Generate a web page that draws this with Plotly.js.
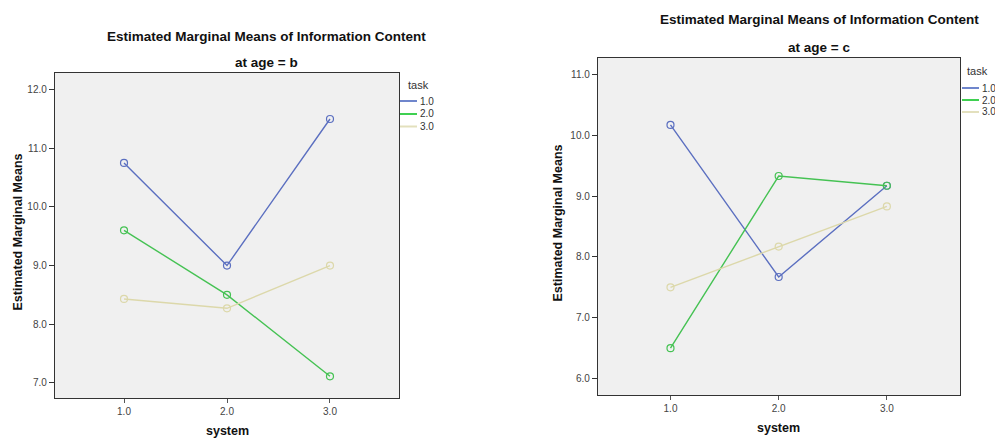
<!DOCTYPE html>
<html>
<head>
<meta charset="utf-8">
<script src="https://cdn.plot.ly/plotly-3.0.1.min.js"></script>
<style>
  html, body { margin: 0; padding: 0; background: #ffffff; }
  #chart { width: 995px; height: 439px; }
</style>
</head>
<body>
<div id="chart"></div>
<script>
// Estimated marginal means of Information Content by system, per task, at two age levels
const systemLevels = [1, 2, 3];
const systemTickText = ['1.0', '2.0', '3.0'];
const taskLabels = ['1.0', '2.0', '3.0'];

// age = b
const ageB_task1 = [10.75, 9.0, 11.5];
const ageB_task2 = [9.6, 8.5, 7.11];
const ageB_task3 = [8.43, 8.27, 9.0];

// age = c
const ageC_task1 = [10.17, 7.67, 9.17];
const ageC_task2 = [6.5, 9.33, 9.17];
const ageC_task3 = [7.5, 8.17, 8.83];

const mainTitle = 'Estimated Marginal Means of Information Content';
const panelSubtitles = ['at age = b', 'at age = c'];
const xTitle = 'system';
const yTitle = 'Estimated Marginal Means';
const legendTitle = 'task';

const yTicksB = [7, 8, 9, 10, 11, 12];
const yTicksC = [6, 7, 8, 9, 10, 11];

const lineColors = ['#5b6fc0', '#45c253', '#dcd8aa'];
const keyColors = ['#6f86cc', '#3fd051', '#e3e0bd'];

const W = 995, H = 439;
const px = x => x / W;
const py = y => 1 - y / H;

const FONT = 'Liberation Sans, Arial, sans-serif';

// panel frames in pixels: [left, right, top, bottom]
const panels = [
  { box: [55, 399, 73, 398], xr: [0.33, 3.67], yr: [6.74, 12.285], ticks: yTicksB,
    series: [ageB_task1, ageB_task2, ageB_task3],
    titleY: 36, subY: 63, titleX: 266,
    yTitleX: 17,
    legend: { titleX: 406, titleY: 85, lineX0: 400, lineX1: 417, labelX: 418, rows: [101, 114, 126.5] } },
  { box: [598, 960, 58, 395], xr: [0.33, 3.676], yr: [5.73, 11.27], ticks: yTicksC,
    series: [ageC_task1, ageC_task2, ageC_task3],
    titleY: 20, subY: 47, titleX: 819,
    yTitleX: 557,
    legend: { titleX: 965, titleY: 70.5, lineX0: 962, lineX1: 979, labelX: 980, rows: [88, 100, 112] } }
];

const traces = [];
const layout = {
  width: W, height: H,
  margin: { l: 0, r: 0, t: 0, b: 0 },
  paper_bgcolor: '#ffffff',
  showlegend: false,
  font: { family: FONT, size: 10, color: '#333333' },
  annotations: [],
  shapes: []
};

panels.forEach((p, i) => {
  const n = i === 0 ? '' : String(i + 1);
  const [l, r, t, b] = p.box;

  layout['xaxis' + n] = {
    domain: [px(l), px(r)],
    range: p.xr,
    anchor: 'y' + n,
    tickmode: 'array', tickvals: systemLevels, ticktext: systemTickText,
    ticks: 'outside', ticklen: 4, tickwidth: 1, tickcolor: '#555555',
    showline: true, mirror: true, linecolor: '#333333', linewidth: 1.2,
    showgrid: false, zeroline: false,
    tickfont: { family: FONT, size: 10, color: '#444444' },
    fixedrange: true
  };
  layout['yaxis' + n] = {
    domain: [py(b), py(t)],
    range: p.yr,
    anchor: 'x' + n,
    tickmode: 'array', tickvals: p.ticks, ticktext: p.ticks.map(v => v.toFixed(1)),
    ticks: 'outside', ticklen: 5, tickwidth: 1, tickcolor: '#333333',
    showline: true, mirror: true, linecolor: '#333333', linewidth: 1.2,
    showgrid: false, zeroline: false,
    tickfont: { family: FONT, size: 10, color: '#444444' },
    fixedrange: true
  };

  // plot area fill
  layout.shapes.push({
    type: 'rect', xref: 'x' + n + ' domain', yref: 'y' + n + ' domain',
    x0: 0, x1: 1, y0: 0, y1: 1,
    fillcolor: '#f0f0f0', line: { width: 0 }, layer: 'below'
  });

  p.series.forEach((vals, k) => {
    traces.push({
      type: 'scatter', mode: 'lines+markers',
      x: systemLevels, y: vals,
      xaxis: 'x' + n, yaxis: 'y' + n,
      name: taskLabels[k],
      line: { color: lineColors[k], width: 1.4 },
      marker: { symbol: 'circle-open', size: 7, color: lineColors[k], line: { width: 1.2, color: lineColors[k] } },
      cliponaxis: false,
      hoverinfo: 'x+y+name'
    });
  });

  // titles
  layout.annotations.push({
    text: '<b>' + mainTitle + '</b>', xref: 'paper', yref: 'paper',
    x: px(p.titleX), y: py(p.titleY), xanchor: 'center', yanchor: 'middle',
    showarrow: false, font: { family: FONT, size: 13.5, color: '#111111' }
  });
  layout.annotations.push({
    text: '<b>' + panelSubtitles[i] + '</b>', xref: 'paper', yref: 'paper',
    x: px(p.titleX), y: py(p.subY), xanchor: 'center', yanchor: 'middle',
    showarrow: false, font: { family: FONT, size: 13.5, color: '#111111' }
  });

  // axis titles
  layout.annotations.push({
    text: '<b>' + xTitle + '</b>', xref: 'x' + n, yref: 'paper',
    x: 2, y: py(b + 33), xanchor: 'center', yanchor: 'middle',
    showarrow: false, font: { family: FONT, size: 12.5, color: '#111111' }
  });
  layout.annotations.push({
    text: '<b>' + yTitle + '</b>', xref: 'paper', yref: 'paper',
    x: px(p.yTitleX), y: py((t + b) / 2 - 3), xanchor: 'center', yanchor: 'middle',
    textangle: -90,
    showarrow: false, font: { family: FONT, size: 12.5, color: '#111111' }
  });

  // legend key
  const lg = p.legend;
  layout.annotations.push({
    text: legendTitle, xref: 'paper', yref: 'paper',
    x: px(lg.titleX), y: py(lg.titleY), xanchor: 'left', yanchor: 'middle',
    showarrow: false, font: { family: FONT, size: 11, color: '#333333' }
  });
  taskLabels.forEach((lab, k) => {
    layout.shapes.push({
      type: 'line', xref: 'paper', yref: 'paper',
      x0: px(lg.lineX0), x1: px(lg.lineX1), y0: py(lg.rows[k]), y1: py(lg.rows[k]),
      line: { color: keyColors[k], width: 2 }
    });
    layout.annotations.push({
      text: lab, xref: 'paper', yref: 'paper',
      x: px(lg.labelX), y: py(lg.rows[k]), xanchor: 'left', yanchor: 'middle',
      showarrow: false, font: { family: FONT, size: 10, color: '#333333' }
    });
  });
});

Plotly.newPlot('chart', traces, layout, { displayModeBar: false, staticPlot: true });
</script>
</body>
</html>
